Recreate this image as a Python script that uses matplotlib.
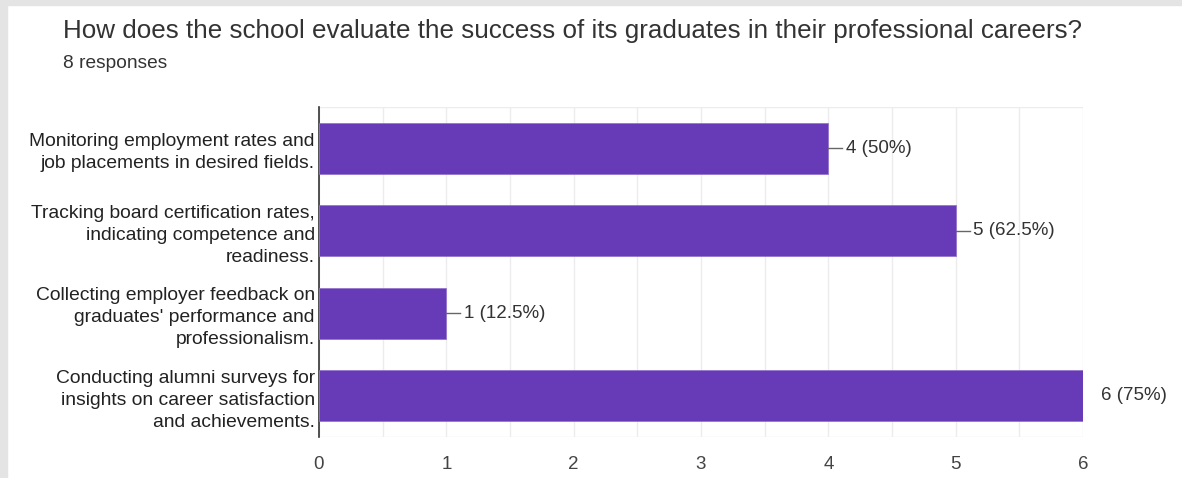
import matplotlib.pyplot as plt
from matplotlib.patches import Rectangle
from matplotlib.ticker import MultipleLocator

# Survey answers and counts
categories = [
    "Monitoring employment rates and\njob placements in desired fields.",
    "Tracking board certification rates,\nindicating competence and\nreadiness.",
    "Collecting employer feedback on\ngraduates' performance and\nprofessionalism.",
    "Conducting alumni surveys for\ninsights on career satisfaction\nand achievements.",
]
counts = [4, 5, 1, 6]
total = 8
xticks = [0, 1, 2, 3, 4, 5, 6]

plt.rcParams['font.family'] = ['Liberation Sans', 'DejaVu Sans']

fig = plt.figure(figsize=(11.82, 4.78), dpi=100)
fig.patch.set_facecolor('white')

# grey page edges (top and left)
fig.add_artist(Rectangle((0, 1 - 5 / 478), 1, 5 / 478, transform=fig.transFigure,
                         color='#e4e4e4', zorder=0))
fig.add_artist(Rectangle((0, 0), 7 / 1182, 1, transform=fig.transFigure,
                         color='#e4e4e4', zorder=0))

fig.text(63 / 1182, 1 - 31 / 478, "How does the school evaluate the success of its graduates in their professional careers?",
         fontsize=18.7, color='#333333', va='center', ha='left')
fig.text(63 / 1182, 1 - 63 / 478, "8 responses", fontsize=13.8, color='#333333', va='center', ha='left')

# plot area: x 319..1083, y 107..437
ax = fig.add_axes([319 / 1182, 1 - 437 / 478, (1083 - 319) / 1182, (437 - 107) / 478])
y = list(range(len(categories)))
ax.barh(y, counts, height=0.62, color='#673ab7', edgecolor='#9575cd', linewidth=0.6, zorder=3)

ax.set_xlim(0, 6)
ax.set_ylim(len(categories) - 0.5, -0.5)
ax.set_xticks(xticks)
ax.xaxis.set_minor_locator(MultipleLocator(0.5))
ax.grid(axis='x', which='both', color='#ececec', linewidth=1, zorder=0)
ax.set_yticks(y)
ax.set_yticklabels(categories, fontsize=13.9, color='#222222', linespacing=1.38)

for side in ['top', 'right', 'bottom']:
    ax.spines[side].set_visible(False)
ax.spines['left'].set_color('#333333')
ax.spines['left'].set_linewidth(1.2)
ax.axhline(-0.5, color='#ececec', linewidth=1, zorder=1)
ax.axhline(len(categories) - 0.5, color='#ececec', linewidth=1, zorder=1)
ax.tick_params(axis='y', length=0, pad=3)
ax.tick_params(axis='x', which='both', length=0, pad=14, labelsize=13.5, labelcolor='#444444')

# value labels with short leader lines
for yi, c in zip(y, counts):
    label = f"{c} ({c / total * 100:g}%)"
    ax.plot([c, c + 0.11], [yi, yi], color='#666666', linewidth=1, zorder=4)
    ax.text(c + 0.14, yi, label, va='center', ha='left', fontsize=13.5, color='#333333')

fig.savefig('out.png', dpi=100, facecolor='white')
